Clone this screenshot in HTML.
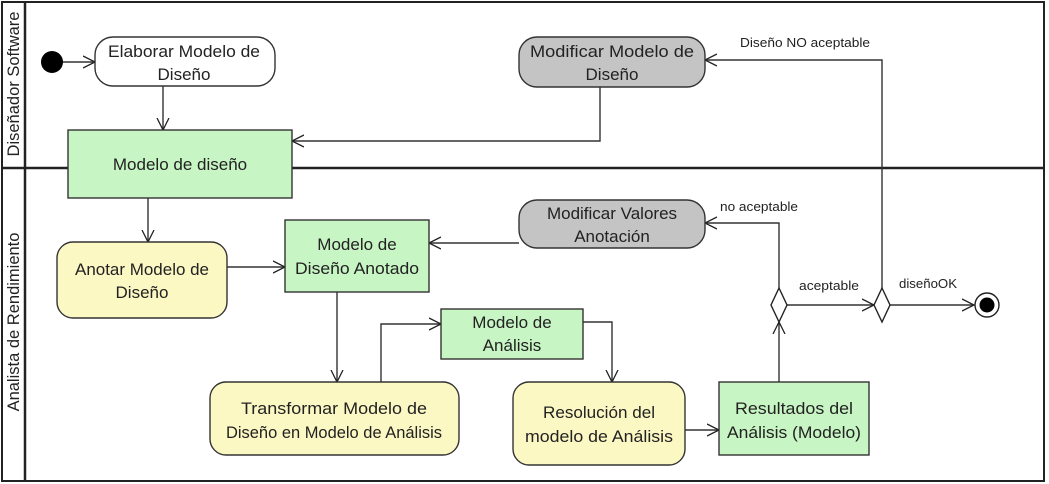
<!DOCTYPE html>
<html><head><meta charset="utf-8"><style>
html,body{margin:0;padding:0;background:#fff;}
svg{display:block;font-family:"Liberation Sans",Arial,sans-serif;}
</style></head><body>
<svg width="1049" height="484" viewBox="0 0 1049 484" xmlns="http://www.w3.org/2000/svg">
<defs>
<marker id="a" markerWidth="14" markerHeight="14" refX="12" refY="7" orient="auto" markerUnits="userSpaceOnUse">
<path d="M0,1 L12,7 L0,13" fill="none" stroke="#222" stroke-width="1.3"/>
</marker>
</defs>
<rect x="0" y="0" width="1049" height="484" fill="#fff"/>
<rect x="2" y="2" width="1042" height="479" fill="none" stroke="#222" stroke-width="2"/>
<line x1="25" y1="2" x2="25" y2="481" stroke="#222" stroke-width="2.5"/>
<line x1="2" y1="168" x2="1044" y2="168" stroke="#222" stroke-width="2.5"/>
<text transform="translate(19,84) rotate(-90)" text-anchor="middle" font-size="16.5" fill="#222">Diseñador Software</text>
<text transform="translate(19,322) rotate(-90)" text-anchor="middle" font-size="16.5" fill="#222">Analista de Rendimiento</text>

<g fill="none" stroke="#333" stroke-width="1.4">
<line x1="62" y1="62" x2="95" y2="62" marker-end="url(#a)"/>
<line x1="163" y1="86" x2="163" y2="130" marker-end="url(#a)"/>
<polyline points="600,87 600,141 292,141" marker-end="url(#a)"/>
<polyline points="882,288 882,60 705,60" marker-end="url(#a)"/>
<line x1="148" y1="198" x2="148" y2="242" marker-end="url(#a)"/>
<line x1="227" y1="267" x2="285" y2="267" marker-end="url(#a)"/>
<line x1="519" y1="243" x2="429" y2="243" marker-end="url(#a)"/>
<polyline points="779,288 779,223 705,223" marker-end="url(#a)"/>
<line x1="337" y1="292" x2="337" y2="382" marker-end="url(#a)"/>
<polyline points="381,382 381,324 441,324" marker-end="url(#a)"/>
<polyline points="583,322 612,322 612,382" marker-end="url(#a)"/>
<line x1="685" y1="430" x2="719" y2="430" marker-end="url(#a)"/>
<line x1="779" y1="382" x2="779" y2="322" marker-end="url(#a)"/>
<line x1="787" y1="305" x2="874" y2="305" marker-end="url(#a)"/>
<line x1="890" y1="305" x2="974" y2="305" marker-end="url(#a)"/>
</g>

<circle cx="52" cy="62" r="11" fill="#000"/>
<circle cx="987" cy="305" r="12" fill="#fff" stroke="#222" stroke-width="1.4"/>
<circle cx="987" cy="305" r="7.5" fill="#000"/>
<polygon points="779,288 787,305 779,322 771,305" fill="#fff" stroke="#222" stroke-width="1.4"/>
<polygon points="882,288 890,305 882,322 874,305" fill="#fff" stroke="#222" stroke-width="1.4"/>

<g stroke="#333" stroke-width="1.4">
<rect x="95" y="37" width="180" height="49" rx="18" fill="#fff"/>
<rect x="68" y="130" width="224" height="68" fill="#c8f5c4"/>
<rect x="519" y="37" width="186" height="50" rx="18" fill="#c4c4c4"/>
<rect x="519" y="200" width="186" height="48" rx="18" fill="#c4c4c4"/>
<rect x="57" y="242" width="170" height="76" rx="16" fill="#fcf8c4"/>
<rect x="285" y="220" width="144" height="72" fill="#c8f5c4"/>
<rect x="441" y="309" width="142" height="50" fill="#c8f5c4"/>
<rect x="210" y="382" width="249" height="73" rx="16" fill="#fcf8c4"/>
<rect x="513" y="382" width="172" height="83" rx="16" fill="#fcf8c4"/>
<rect x="719" y="382" width="150" height="73" fill="#c8f5c4"/>
</g>

<g font-size="17" fill="#222" text-anchor="middle">
<text x="184" y="57" textLength="152" lengthAdjust="spacingAndGlyphs">Elaborar Modelo de</text>
<text x="184" y="80">Diseño</text>
<text x="180" y="170">Modelo de diseño</text>
<text x="612" y="57" textLength="164" lengthAdjust="spacingAndGlyphs">Modificar Modelo de</text>
<text x="612" y="80">Diseño</text>
<text x="612" y="219">Modificar Valores</text>
<text x="612" y="242">Anotación</text>
<text x="142" y="275" textLength="134" lengthAdjust="spacingAndGlyphs">Anotar Modelo de</text>
<text x="142" y="298">Diseño</text>
<text x="357" y="250">Modelo de</text>
<text x="357" y="274" textLength="124" lengthAdjust="spacingAndGlyphs">Diseño Anotado</text>
<text x="512" y="328">Modelo de</text>
<text x="512" y="351">Análisis</text>
<text x="334" y="414" textLength="186" lengthAdjust="spacingAndGlyphs">Transformar Modelo de</text>
<text x="334" y="438" textLength="216" lengthAdjust="spacingAndGlyphs">Diseño en Modelo de Análisis</text>
<text x="599" y="418" textLength="112" lengthAdjust="spacingAndGlyphs">Resolución del</text>
<text x="599" y="442" textLength="148" lengthAdjust="spacingAndGlyphs">modelo de Análisis</text>
<text x="794" y="414" textLength="118" lengthAdjust="spacingAndGlyphs">Resultados del</text>
<text x="794" y="438" textLength="134" lengthAdjust="spacingAndGlyphs">Análisis (Modelo)</text>
</g>
<g font-size="13" fill="#222">
<text x="740" y="47" textLength="130" lengthAdjust="spacingAndGlyphs">Diseño NO aceptable</text>
<text x="720" y="211" textLength="78" lengthAdjust="spacingAndGlyphs">no aceptable</text>
<text x="799" y="290" textLength="60" lengthAdjust="spacingAndGlyphs">aceptable</text>
<text x="899" y="288" textLength="58" lengthAdjust="spacingAndGlyphs">diseñoOK</text>
</g>
</svg>
</body></html>
